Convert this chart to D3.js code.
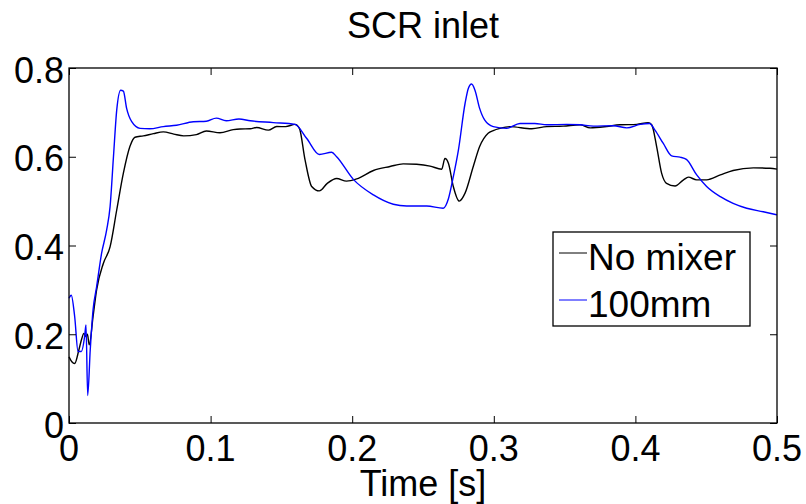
<!DOCTYPE html>
<html>
<head>
<meta charset="utf-8">
<script src="https://d3js.org/d3.v7.min.js"></script>
<style>
    body { margin: 0; background: #fff; }
    text { font-family: "Liberation Sans", Arial, sans-serif; fill: #000; }
</style>
</head>
<body>
<svg id="drawing_region"></svg>
<script>
// No mixer (black)
const timeNoMixer = [0, 0.002, 0.004, 0.007, 0.009, 0.0105, 0.012, 0.013, 0.0143, 0.017, 0.0195, 0.0243, 0.029, 0.0337,
    0.0384, 0.043, 0.0466, 0.0525, 0.0596, 0.0666, 0.074, 0.081, 0.09, 0.097, 0.1066, 0.116, 0.1208, 0.128, 0.1325,
    0.1408, 0.1467, 0.153, 0.1596, 0.1627, 0.1667, 0.1714, 0.1768, 0.1824, 0.189, 0.196, 0.2032, 0.215, 0.2267, 0.236,
    0.2455, 0.255, 0.2632, 0.2655, 0.268, 0.2714, 0.2756, 0.2797, 0.2855, 0.29, 0.296, 0.2996, 0.3043, 0.3114, 0.3268,
    0.3374, 0.349, 0.361, 0.368, 0.3797, 0.389, 0.401, 0.409, 0.4115, 0.415, 0.4185, 0.422, 0.428, 0.434, 0.4374,
    0.4433, 0.4503, 0.46, 0.469, 0.4833, 0.495, 0.5];
const valueNoMixer = [0.149, 0.138, 0.134, 0.165, 0.19, 0.202, 0.195, 0.2, 0.176, 0.24, 0.30, 0.36, 0.397, 0.48,
    0.563, 0.623, 0.644, 0.647, 0.652, 0.656, 0.651, 0.647, 0.65, 0.658, 0.654, 0.661, 0.6625, 0.663, 0.666,
    0.66, 0.668, 0.668, 0.673, 0.664, 0.593, 0.533, 0.523, 0.54, 0.551, 0.545, 0.55, 0.569, 0.578, 0.584,
    0.583, 0.579, 0.572, 0.596, 0.585, 0.533, 0.5, 0.518, 0.578, 0.623, 0.653, 0.659, 0.664, 0.668, 0.663,
    0.668, 0.669, 0.672, 0.665, 0.668, 0.672, 0.673, 0.677, 0.672, 0.623, 0.563, 0.54, 0.534, 0.548, 0.554,
    0.548, 0.548, 0.559, 0.569, 0.575, 0.574, 0.572];

// 100mm mixer (blue)
const time100mm = [0, 0.0016, 0.004, 0.0064, 0.0087, 0.011, 0.012, 0.0132, 0.015, 0.017, 0.0195, 0.023, 0.0266, 0.029,
    0.0314, 0.0337, 0.0365, 0.0384, 0.0407, 0.0443, 0.0502, 0.057, 0.0666, 0.076, 0.0878, 0.097, 0.104, 0.111, 0.12,
    0.128, 0.1443, 0.1596, 0.1679, 0.1768, 0.1855, 0.189, 0.2008, 0.215, 0.229, 0.2385, 0.2526, 0.2643, 0.268, 0.2714,
    0.275, 0.2797, 0.282, 0.2843, 0.2867, 0.29, 0.2935, 0.2996, 0.309, 0.3185, 0.329, 0.3374, 0.3515, 0.361, 0.3703,
    0.3844, 0.3939, 0.4033, 0.41, 0.4138, 0.4197, 0.4256, 0.4315, 0.436, 0.4433, 0.4503, 0.46, 0.469, 0.4786,
    0.4903, 0.5];
const value100mm = [0.281, 0.288, 0.24, 0.161, 0.161, 0.194, 0.221, 0.062, 0.165, 0.255, 0.307, 0.382, 0.435, 0.487,
    0.6, 0.705, 0.75, 0.748, 0.709, 0.679, 0.664, 0.663, 0.668, 0.671, 0.679, 0.68, 0.687, 0.681, 0.685,
    0.681, 0.677, 0.673, 0.641, 0.605, 0.61, 0.6, 0.549, 0.514, 0.493, 0.489, 0.489, 0.484, 0.506, 0.555,
    0.615, 0.72, 0.754, 0.764, 0.75, 0.709, 0.683, 0.668, 0.664, 0.675, 0.675, 0.672, 0.673, 0.672, 0.669,
    0.67, 0.665, 0.673, 0.675, 0.66, 0.63, 0.602, 0.599, 0.594, 0.559, 0.533, 0.51, 0.495, 0.484,
    0.476, 0.469];

const xTicks = [0, 0.1, 0.2, 0.3, 0.4, 0.5];
const yTicks = [0, 0.2, 0.4, 0.6, 0.8];
const seriesNames = ["No mixer", "100mm"];
const seriesColors = ["#000000", "#0000ff"];

const series = [
    { name: seriesNames[0], color: seriesColors[0], values: timeNoMixer.map((t, i) => ({ t: t, v: valueNoMixer[i] })) },
    { name: seriesNames[1], color: seriesColors[1], values: time100mm.map((t, i) => ({ t: t, v: value100mm[i] })) }
];

class LineChart {

    constructor( config, data ) {
        this.config = {
            parent: config.parent,
            width: config.width || 256,
            height: config.height || 256,
            margin: config.margin || { top:10, right:10, bottom:10, left:10 }
        }
        this.data = data;
        this.init();
    }

    init() {
        let self = this;

        self.svg = d3.select( self.config.parent )
            .attr( 'width', self.config.width )
            .attr( 'height', self.config.height );

        self.chart = self.svg.append( 'g' )
            .attr( 'transform', `translate(${self.config.margin.left}, ${self.config.margin.top})` );

        self.inner_width = self.config.width - self.config.margin.left - self.config.margin.right;
        self.inner_height = self.config.height - self.config.margin.top - self.config.margin.bottom;

        self.xscale = d3.scaleLinear()
            .domain( [ 0, 0.5 ] )
            .range( [ 0, self.inner_width ] );

        self.yscale = d3.scaleLinear()
            .domain( [ 0, 0.8 ] )
            .range( [ self.inner_height, 0 ] );
    }

    render() {
        let self = this;
        const fmt = d => d === 0 ? "0" : d3.format( ".1f" )( d );

        // lines
        const line = d3.line()
            .x( d => self.xscale( d.t ) )
            .y( d => self.yscale( d.v ) )
            .curve( d3.curveMonotoneX );

        self.chart.selectAll( "path.series" )
            .data( self.data )
            .enter()
            .append( "path" )
            .attr( "class", "series" )
            .attr( "fill", "none" )
            .attr( "stroke", d => d.color )
            .attr( "stroke-width", 1.4 )
            .attr( "d", d => line( d.values ) );

        // axes with inward ticks on all four sides
        const tick = 7;
        self.chart.append( 'g' )
            .attr( 'transform', `translate(0, ${self.inner_height})` )
            .call( d3.axisBottom( self.xscale ).tickValues( xTicks ).tickSize( -tick ).tickSizeOuter( 0 ).tickFormat( "" ) );
        self.chart.append( 'g' )
            .call( d3.axisTop( self.xscale ).tickValues( xTicks ).tickSize( -tick ).tickSizeOuter( 0 ).tickFormat( "" ) );
        self.chart.append( 'g' )
            .call( d3.axisLeft( self.yscale ).tickValues( yTicks ).tickSize( -tick ).tickSizeOuter( 0 ).tickFormat( "" ) );
        self.chart.append( 'g' )
            .attr( 'transform', `translate(${self.inner_width}, 0)` )
            .call( d3.axisRight( self.yscale ).tickValues( yTicks ).tickSize( -tick ).tickSizeOuter( 0 ).tickFormat( "" ) );

        self.chart.selectAll( ".domain" ).remove();
        self.chart.selectAll( ".tick line" ).attr( "stroke", "#000" ).attr( "stroke-width", 1 );

        self.chart.append( "rect" )
            .attr( "width", self.inner_width )
            .attr( "height", self.inner_height )
            .attr( "fill", "none" )
            .attr( "stroke", "#000" )
            .attr( "stroke-width", 1.3 );

        // tick labels
        self.chart.selectAll( "text.xlabel" )
            .data( xTicks )
            .enter()
            .append( "text" )
            .attr( "x", d => self.xscale( d ) )
            .attr( "y", self.inner_height + 38 )
            .attr( "text-anchor", "middle" )
            .attr( "font-size", 36 )
            .text( fmt );

        self.chart.selectAll( "text.ylabel" )
            .data( yTicks )
            .enter()
            .append( "text" )
            .attr( "x", -5 )
            .attr( "y", d => self.yscale( d ) + 14.5 )
            .attr( "text-anchor", "end" )
            .attr( "font-size", 36 )
            .text( fmt );

        // title and axis label
        self.chart.append( "text" )
            .attr( "x", self.inner_width / 2 )
            .attr( "y", -30 )
            .attr( "text-anchor", "middle" )
            .attr( "font-size", 36 )
            .text( "SCR inlet" );

        self.chart.append( "text" )
            .attr( "x", self.inner_width / 2 )
            .attr( "y", self.inner_height + 73 )
            .attr( "text-anchor", "middle" )
            .attr( "font-size", 36 )
            .text( "Time [s]" );

        // legend
        const legend = self.chart.append( "g" )
            .attr( "transform", `translate(${553 - self.config.margin.left}, ${232 - self.config.margin.top})` );

        legend.append( "rect" )
            .attr( "width", 197 )
            .attr( "height", 94 )
            .attr( "fill", "#fff" )
            .attr( "stroke", "#000" )
            .attr( "stroke-width", 1.3 );

        const item = legend.selectAll( "g.item" )
            .data( self.data )
            .enter()
            .append( "g" )
            .attr( "transform", (d, i) => `translate(0, ${21 + i * 47})` );

        item.append( "line" )
            .attr( "x1", 6 )
            .attr( "x2", 34 )
            .attr( "stroke", d => d.color )
            .attr( "stroke-width", 1 );

        item.append( "text" )
            .attr( "x", 35 )
            .attr( "y", 17 )
            .attr( "font-size", 37 )
            .text( d => d.name );
    }
}

var config = {
    parent: '#drawing_region',
    width: 806,
    height: 504,
    margin: { top:68, right:29, bottom:81, left:69 }
};

const line_chart = new LineChart( config, series );
line_chart.render();
</script>
</body>
</html>
